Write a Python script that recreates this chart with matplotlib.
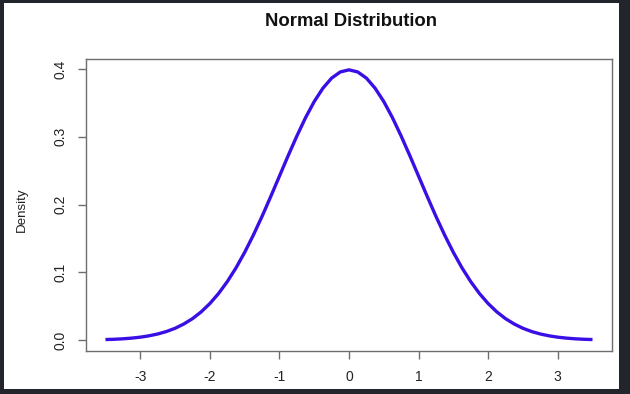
import matplotlib.pyplot as plt
import numpy as np
from matplotlib.patches import Rectangle

plt.rcParams['font.family'] = ['Liberation Sans', 'DejaVu Sans']

# density values, x from -3.5 to 3.5 in steps of 0.125
half = [0.0009, 0.0013, 0.0020, 0.0030, 0.0044, 0.0064, 0.0091, 0.0127,
        0.0175, 0.0238, 0.0317, 0.0417, 0.0540, 0.0688, 0.0863, 0.1065,
        0.1295, 0.1550, 0.1826, 0.2119, 0.2420, 0.2721, 0.3011, 0.3282,
        0.3521, 0.3718, 0.3867, 0.3958]
peak = 0.3989
density = half + [peak] + half[::-1]
x = np.linspace(-3.5, 3.5, len(density))

xticks = [-3, -2, -1, 0, 1, 2, 3]
yticks = [0.0, 0.1, 0.2, 0.3, 0.4]
ytick_labels = ['0.0', '0.1', '0.2', '0.3', '0.4']

W, H = 630, 394
fig = plt.figure(figsize=(W / 100, H / 100), dpi=100, facecolor='#22252c')
# white screenshot area inside the dark frame
fig.patches.append(Rectangle((4 / W, 5 / H), (619 - 4) / W, (391 - 5) / H,
                             transform=fig.transFigure, facecolor='white',
                             edgecolor='none', zorder=0))

ax = fig.add_axes([86 / W, (H - 351) / H, (612 - 86) / W, (351 - 59) / H])
ax.set_zorder(2)
ax.plot(x, density, color='#3a0fe6', lw=2.4, solid_capstyle='butt',
        solid_joinstyle='round')

ax.set_xlim(-3.78, 3.78)
ax.set_ylim(-0.016, 0.4149)
ax.set_xticks(xticks)
ax.set_xticklabels([str(t) for t in xticks])
ax.set_yticks(yticks)
ax.set_yticklabels(ytick_labels, rotation=90, va='center')

edge = '#6e6e6e'
for s in ax.spines.values():
    s.set_color(edge)
    s.set_linewidth(1.0)
ax.tick_params(axis='both', direction='out', length=5.5, width=1.0,
               color=edge, labelcolor='#222222', labelsize=10)
ax.tick_params(axis='x', pad=8.5)
ax.tick_params(axis='y', pad=8)

fig.text(351 / W, (H - 21.5) / H, 'Normal Distribution', ha='center',
         va='center', fontsize=13.3, fontweight='bold', color='#111111',
         zorder=3)
fig.text(22 / W, (H - 210) / H, 'Density', ha='center', va='center',
         rotation=90, fontsize=9.6, color='#222222', zorder=3)

fig.savefig('out.png', dpi=100, facecolor=fig.get_facecolor())
